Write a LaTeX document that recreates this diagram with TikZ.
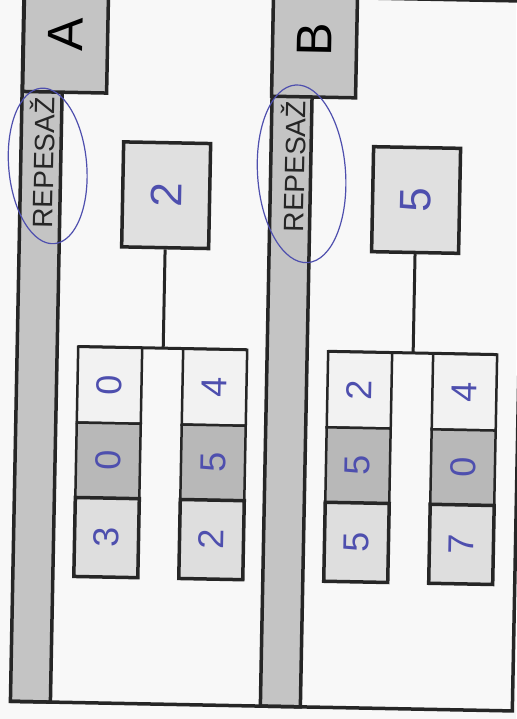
\documentclass[tikz,border=0pt]{standalone}
\usepackage{fontspec}
\setmainfont{Liberation Sans}
\usepackage{graphicx}
\usetikzlibrary{positioning}

\definecolor{ink}{HTML}{262626}
\definecolor{pen}{HTML}{4E4FAE}
\definecolor{paper}{HTML}{F8F8F8}
\definecolor{stripgray}{HTML}{C4C4C4}
\definecolor{boxgray}{HTML}{E0E0E0}
\definecolor{cellpale}{HTML}{F2F2F2}
\definecolor{celldark}{HTML}{B8B8B8}
\definecolor{cellmid}{HTML}{DEDEDE}

\newcommand{\vtext}[1]{\rotatebox{90}{#1}}

\tikzset{
    panel/.style={draw=ink, line width=3.5pt},
    strip/.style={panel, fill=stripgray},
    link/.style={draw=ink, line width=3pt},
    letterbox/.style={panel, fill=stripgray, minimum width=84pt, minimum height=116pt, inner sep=0pt, font=\fontsize{50}{50}\selectfont},
    tag/.style={text=ink, inner sep=0pt, font=\fontsize{28}{28}\selectfont},
    numbox/.style={panel, fill=boxgray, minimum width=87pt, minimum height=105pt, inner sep=0pt, text=pen, font=\fontsize{44}{44}\selectfont},
    topcell/.style={draw=ink, line width=2.5pt, fill=cellpale, minimum width=64pt, minimum height=76pt, inner sep=0pt, outer sep=0pt, text=pen, font=\fontsize{36}{36}\selectfont},
    midcell/.style={topcell, fill=celldark, minimum height=75pt},
    lowcell/.style={topcell, line width=3.5pt, fill=cellmid, minimum height=79pt},
    loop/.style={draw=pen, line width=1.2pt}
}

\begin{document}
\begin{tikzpicture}[x=1pt, y=-1pt]
\useasboundingbox[fill=paper] (0,0) rectangle (516,719);

\begin{scope}[rotate around={-1.1:(258,360)}, transform shape]

% part A
\draw[strip] (17,-20) rectangle (57,706);
\draw[panel] (17,706) -- (267,706);
\node[letterbox] (lettA) at (59.5,38) {\vtext{A}};
\node[tag, rotate=90] (tagA) at (38,167) {REPESAŽ};
\draw[loop, rotate around={6:(44,170)}] (44,170) ellipse [x radius=39, y radius=78];

\node[numbox] (num2) at (163,197) {\vtext{2}};

\node[topcell] (al1) at (110,388) {\vtext{0}};
\node[midcell, below=0pt of al1] (al2) {\vtext{0}};
\node[lowcell, below=0pt of al2] (al3) {\vtext{3}};

\node[topcell] (ar1) at (215,388) {\vtext{4}};
\node[midcell, below=0pt of ar1] (ar2) {\vtext{5}};
\node[lowcell, below=0pt of ar2] (ar3) {\vtext{2}};

\draw[link] (num2.south) -- (num2.south |- al1.north);
\draw[link] (al1.north west) -- (ar1.north east);

% part B
\draw[strip] (267,-20) rectangle (307,706);
\draw[panel] (267,706) -- (519,706) -- (519,-4) -- (350,-4);
\node[letterbox] (lettB) at (308.5,38) {\vtext{B}};
\node[tag, rotate=90] (tagB) at (289,166) {REPESAŽ};
\draw[loop, rotate around={5:(298,173)}] (298,173) ellipse [x radius=44, y radius=89];

\node[numbox] (num5) at (413,197) {\vtext{5}};

\node[topcell] (bl1) at (360,388) {\vtext{2}};
\node[midcell, below=0pt of bl1] (bl2) {\vtext{5}};
\node[lowcell, below=0pt of bl2] (bl3) {\vtext{5}};

\node[topcell] (br1) at (465,388) {\vtext{4}};
\node[midcell, below=0pt of br1] (br2) {\vtext{0}};
\node[lowcell, below=0pt of br2] (br3) {\vtext{7}};

\draw[link] (num5.south) -- (num5.south |- bl1.north);
\draw[link] (bl1.north west) -- (br1.north east);

\end{scope}
\end{tikzpicture}
\end{document}
